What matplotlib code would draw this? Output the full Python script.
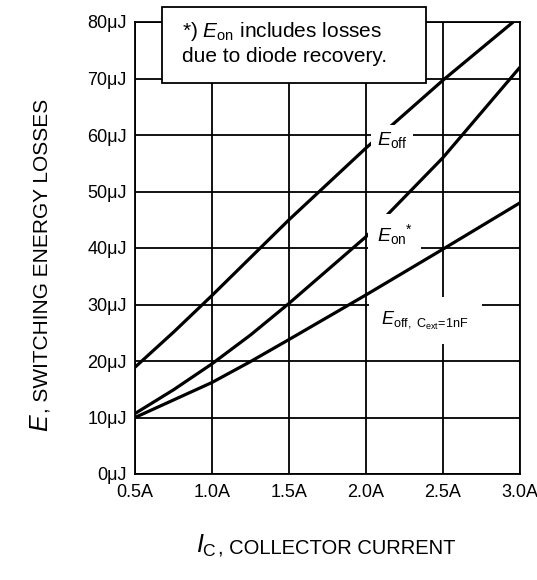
import numpy as np
import matplotlib
matplotlib.use("Agg")
import matplotlib.pyplot as plt
from matplotlib.patches import Rectangle

plt.rcParams["font.family"] = ["Liberation Sans", "DejaVu Sans"]
plt.rcParams["mathtext.fontset"] = "custom"
plt.rcParams["mathtext.rm"] = "Liberation Sans"
plt.rcParams["mathtext.it"] = "Liberation Sans:italic"

# data
ic = [0.5, 0.75, 1.0, 1.25, 1.5, 2.0, 2.5, 3.0]
e_off = [18.9, 25.1, 31.6, 38.3, 45.0, 57.7, 69.7, 81.0]
e_on = [10.7, 14.9, 19.5, 24.6, 30.2, 42.0, 56.0, 72.0]
e_off_cext = [10.0, 13.1, 16.2, 19.9, 23.8, 31.7, 39.8, 48.0]
xticks = [0.5, 1.0, 1.5, 2.0, 2.5, 3.0]
yticks = [0, 10, 20, 30, 40, 50, 60, 70, 80]

W, H = 537, 580
fig = plt.figure(figsize=(W / 100, H / 100), dpi=100)
ax = fig.add_axes([135 / W, 1 - 474 / H, 385 / W, 452 / H])

ax.set_xlim(0.5, 3.0)
ax.set_ylim(0, 80)
ax.set_xticks(xticks)
ax.set_xticklabels(["%.1fA" % v for v in xticks])
ax.set_yticks(yticks)
ax.set_yticklabels(["%dμJ" % v for v in yticks])
ax.tick_params(length=0, labelsize=13, colors="black")
ax.tick_params(axis="y", pad=6)
ax.tick_params(axis="x", pad=7)
ax.grid(True, color="black", linewidth=1.3)
for s in ax.spines.values():
    s.set_linewidth(1.3)

for y in [e_off, e_on, e_off_cext]:
    ax.plot(ic, y, color="black", linewidth=2.3, solid_capstyle="butt", zorder=3)

# curve labels
ax.text(2.07, 58.2, r"$E_{\rm off}$", fontsize=14, ha="left", va="baseline",
        bbox=dict(facecolor="white", edgecolor="none", pad=4), zorder=5)
ax.text(2.07, 41.2, r"$E_{\rm on}{}^{*}$", fontsize=14, ha="left", va="baseline",
        bbox=dict(facecolor="white", edgecolor="none", pad=6), zorder=5)
ax.text(2.1, 26.4, r"$E_{\rm off,\ C_{ext}\!=\!1nF}$", fontsize=13, ha="left",
        va="baseline", bbox=dict(facecolor="white", edgecolor="none", pad=9),
        zorder=5)

# note box on top
note = Rectangle((162 / W, 1 - 83 / H), 264 / W, 76 / H, transform=fig.transFigure,
                 facecolor="white", edgecolor="black", linewidth=1.3, zorder=10)
fig.patches.append(note)
fig.text(182 / W, 1 - 37 / H, r"*) $E_{\rm on}$ includes losses", fontsize=15,
         va="baseline", zorder=11)
fig.text(182 / W, 1 - 62 / H, "due to diode recovery.", fontsize=15,
         va="baseline", zorder=11)

# axis labels built from two pieces
fig.canvas.draw()
r = fig.canvas.get_renderer()
t1 = fig.text(196 / W, 1 - 553 / H, r"$I_{\rm C}$", fontsize=18, va="baseline")
bb = t1.get_window_extent(r)
fig.text(bb.x1 / W + 1 / W, 1 - 553 / H, ", COLLECTOR CURRENT", fontsize=14.5,
         va="baseline")

t2 = fig.text(48 / W, 1 - 432 / H, r"$E$", fontsize=18, rotation=90,
              rotation_mode="anchor", ha="left", va="baseline")
bb = t2.get_window_extent(r)
fig.text(48 / W, bb.y1 / H, ", SWITCHING ENERGY LOSSES", fontsize=15,
         rotation=90, rotation_mode="anchor", ha="left", va="baseline")

fig.savefig("out.png", dpi=100)
